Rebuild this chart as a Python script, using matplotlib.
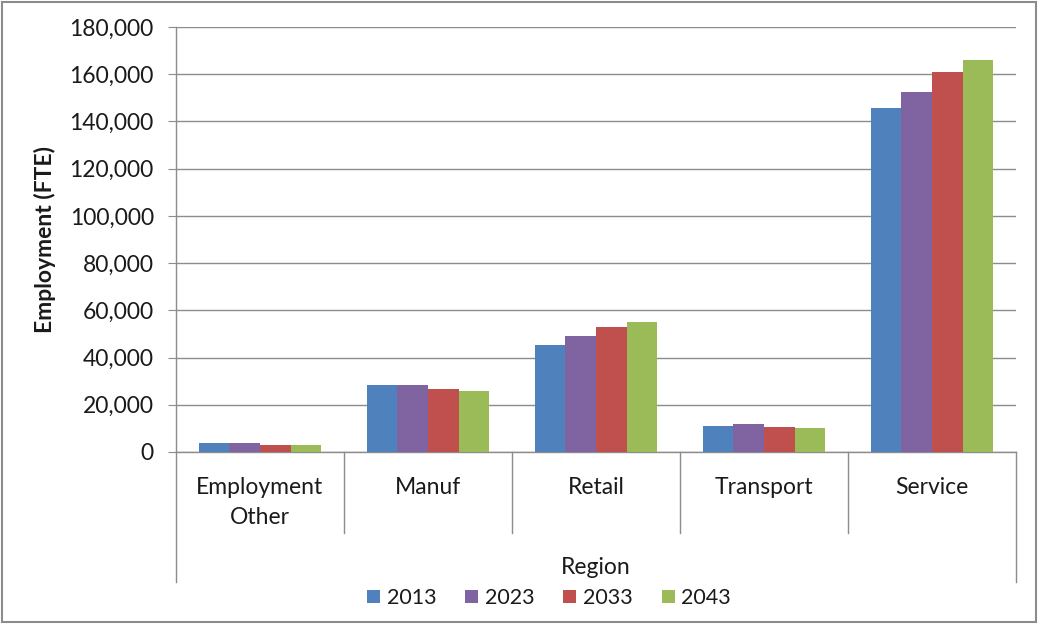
import matplotlib.pyplot as plt
import numpy as np
from matplotlib.patches import Rectangle

plt.rcParams['font.family'] = ['Lato', 'DejaVu Sans']

categories = ['Employment\nOther', 'Manuf', 'Retail', 'Transport', 'Service']
years = ['2013', '2023', '2033', '2043']
emp_2013 = [3700, 28400, 45200, 11000, 145600]
emp_2023 = [3800, 28400, 49100, 11900, 152500]
emp_2033 = [3100, 26600, 53100, 10600, 160800]
emp_2043 = [3100, 25700, 55200, 10200, 166000]

series = [emp_2013, emp_2023, emp_2033, emp_2043]
colors = ['#4F81BD', '#8064A2', '#C0504D', '#9BBB59']
grid_col = '#8C8C8C'
txt_col = '#1A1A1A'
fs = 16.5

fig = plt.figure(figsize=(10.4, 6.24), dpi=100)
ax = fig.add_axes([176 / 1040, (624 - 452) / 624, 840 / 1040, 425 / 624])

x = np.arange(len(categories))
w = 1 / 5.5  # gap width 150%
for i, (vals, c) in enumerate(zip(series, colors)):
    ax.bar(x + (i - 1.5) * w, vals, width=w, color=c, label=years[i], zorder=3)

ax.set_xlim(-0.5, len(categories) - 0.5)
ax.set_ylim(0, 180000)
ax.set_yticks(np.arange(0, 180001, 20000))
ax.yaxis.set_major_formatter(plt.FuncFormatter(lambda v, p: f'{int(v):,}'))
ax.tick_params(axis='y', labelsize=fs, length=6, color=grid_col, pad=10,
               labelcolor=txt_col)
ax.set_xticks([])
ax.grid(axis='y', color=grid_col, linewidth=1, zorder=0)

for s in ['top', 'right']:
    ax.spines[s].set_visible(False)
for s in ['left', 'bottom']:
    ax.spines[s].set_color(grid_col)
    ax.spines[s].set_linewidth(1)

ax.set_ylabel('Employment (FTE)', fontsize=fs, fontweight='bold', labelpad=10,
              color=txt_col)

# multi-level category axis
tr = ax.get_xaxis_transform()
for b in np.arange(0.5, len(categories) - 1, 1):
    ax.plot([b, b], [0, -0.19], transform=tr, color=grid_col, lw=1, clip_on=False)
for b in [-0.5, len(categories) - 0.5]:
    ax.plot([b, b], [0, -0.306], transform=tr, color=grid_col, lw=1, clip_on=False)
for xi, lab in zip(x, categories):
    ax.text(xi, -0.058, lab, transform=tr, ha='center', va='top',
            fontsize=fs, color=txt_col, linespacing=1.55)

fig.text(596 / 1040, 1 - 567 / 624, 'Region', ha='center', va='center',
         fontsize=fs, color=txt_col)

fig.legend(loc='center', bbox_to_anchor=(549 / 1040, 1 - 598 / 624), ncol=4,
           frameon=False, fontsize=15.5, handlelength=0.6, handleheight=0.6,
           handletextpad=0.3, columnspacing=1.35, labelcolor=txt_col)

fig.patches.append(Rectangle((0.002, 0.004), 0.994, 0.992, transform=fig.transFigure,
                             fill=False, edgecolor='#8C8C8C', linewidth=1.5))

fig.savefig('out.png', dpi=100)
